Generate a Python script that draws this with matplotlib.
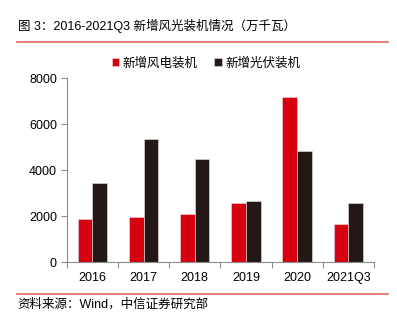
import matplotlib.pyplot as plt
import numpy as np
from matplotlib.lines import Line2D

plt.rcParams['font.family'] = ['Liberation Sans', 'Noto Sans CJK SC']

years = ['2016', '2017', '2018', '2019', '2020', '2021Q3']
wind = [1870, 1960, 2110, 2570, 7170, 1650]
solar = [3460, 5340, 4470, 2650, 4830, 2560]

red = '#D7000F'
dark = '#231815'
axcol = '#8C8C8C'

fig = plt.figure(figsize=(3.97, 3.24), dpi=100)
ax = fig.add_axes([0.168, 0.191, 0.774, 0.567])

x = np.arange(len(years))
w = 0.287
ax.bar(x - w / 2, wind, w, color=red, edgecolor='#E8E0E0', linewidth=0.4, label='新增风电装机')
ax.bar(x + w / 2, solar, w, color=dark, edgecolor='#E8E0E0', linewidth=0.4, label='新增光伏装机')

ax.set_xlim(-0.5, len(years) - 0.5)
ax.set_ylim(0, 8000)
ax.set_yticks([0, 2000, 4000, 6000, 8000])
ax.set_xticks(np.arange(-0.5, len(years)), labels=[])
ax.set_xticks(x, labels=years, minor=True)
ax.tick_params(axis='x', which='major', length=4, color=axcol, direction='out')
ax.tick_params(axis='x', which='minor', length=0, labelsize=9, pad=7)
ax.tick_params(axis='y', length=4, color=axcol, labelsize=9, pad=3)
for s in ['top', 'right']:
    ax.spines[s].set_visible(False)
for s in ['left', 'bottom']:
    ax.spines[s].set_color(axcol)
    ax.spines[s].set_linewidth(0.8)

ax.legend(loc='lower center', bbox_to_anchor=(0.453, 1.0), ncol=2, frameon=False,
          fontsize=9, handlelength=0.6, handleheight=0.6, handletextpad=0.3,
          columnspacing=1.3, borderaxespad=0.3)

fig.text(0.045, 0.920, '图 3：2016-2021Q3 新增风光装机情况（万千瓦）', fontsize=9,
         va='center', ha='left')
fig.add_artist(Line2D([0.043, 0.977], [0.870, 0.870], color='#E06666', linewidth=1.2))
fig.add_artist(Line2D([0.043, 0.977], [0.093, 0.093], color='#E06666', linewidth=1.2))
fig.text(0.045, 0.060, '资料来源：Wind，中信证券研究部', fontsize=9, va='center', ha='left')

fig.savefig('out.png', dpi=100)
